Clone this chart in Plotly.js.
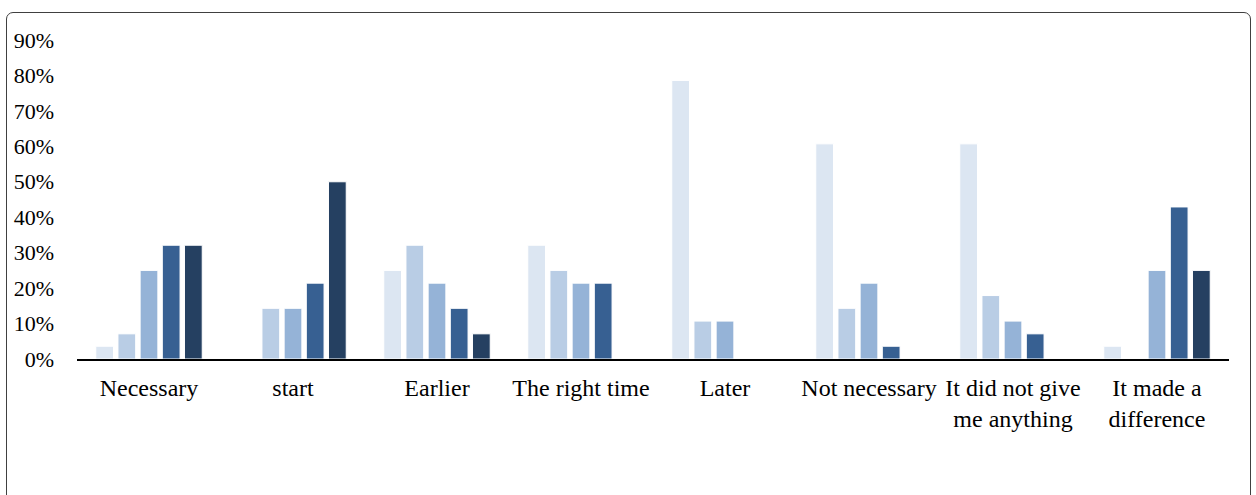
<!DOCTYPE html>
<html>
<head>
<meta charset="utf-8">
<script src="https://cdn.plot.ly/plotly-3.0.1.min.js"></script>
<style>
  html, body { margin: 0; padding: 0; background: #fff; }
  #wrap { position: relative; width: 1256px; height: 495px; overflow: hidden; }
  #chart { position: absolute; left: 0; top: 0; width: 1256px; height: 495px; }
  #frame { position: absolute; left: 6px; top: 12px; width: 1245px; height: 520px;
           border: 1.5px solid #404040; border-radius: 7px; pointer-events: none; box-sizing: border-box; }
</style>
</head>
<body>
<div id="wrap">
  <div id="chart"></div>
  <div id="frame"></div>
</div>
<script>
const categories = ["Necessary", "start", "Earlier", "The right time", "Later",
                    "Not necessary", "It did not give<br>me anything", "It made a<br>difference"];
const series1 = [0.036, 0.000, 0.250, 0.321, 0.786, 0.607, 0.607, 0.036];
const series2 = [0.071, 0.143, 0.321, 0.250, 0.107, 0.143, 0.179, 0.000];
const series3 = [0.250, 0.143, 0.214, 0.214, 0.107, 0.214, 0.107, 0.250];
const series4 = [0.321, 0.214, 0.143, 0.214, 0.000, 0.036, 0.071, 0.429];
const series5 = [0.321, 0.500, 0.071, 0.000, 0.000, 0.000, 0.000, 0.250];
const seriesNames = ["Series 1", "Series 2", "Series 3", "Series 4", "Series 5"];
const colors = ["#dce6f2", "#b9cde5", "#95b3d7", "#376092", "#254061"];
const allSeries = [series1, series2, series3, series4, series5];

const traces = allSeries.map((vals, i) => ({
  type: "bar",
  name: seriesNames[i],
  x: categories,
  y: vals,
  marker: { color: colors[i], line: { color: "#ffffff", width: 1 } },
  hoverinfo: "skip"
}));

const layout = {
  width: 1256, height: 495,
  margin: { l: 77, r: 27, t: 39.5, b: 135.7 },
  paper_bgcolor: "rgba(0,0,0,0)",
  plot_bgcolor: "rgba(0,0,0,0)",
  showlegend: false,
  barmode: "group",
  bargap: 0.23,
  bargroupgap: 0.2,
  font: { family: "Liberation Serif, Times New Roman, serif", size: 22, color: "#000" },
  xaxis: {
    type: "category",
    showline: true, linecolor: "#000", linewidth: 2,
    showgrid: false, zeroline: false, ticks: "",
    ticklabelstandoff: 6,
    tickfont: { size: 24 }
  },
  yaxis: {
    range: [0, 0.9],
    tickvals: [0, 0.1, 0.2, 0.3, 0.4, 0.5, 0.6, 0.7, 0.8, 0.9],
    tickformat: ".0%",
    showline: false, showgrid: false, zeroline: false, ticks: "",
    ticklabelstandoff: 22,
    tickfont: { size: 22 }
  }
};

Plotly.newPlot("chart", traces, layout, { displayModeBar: false, staticPlot: true });
</script>
</body>
</html>
